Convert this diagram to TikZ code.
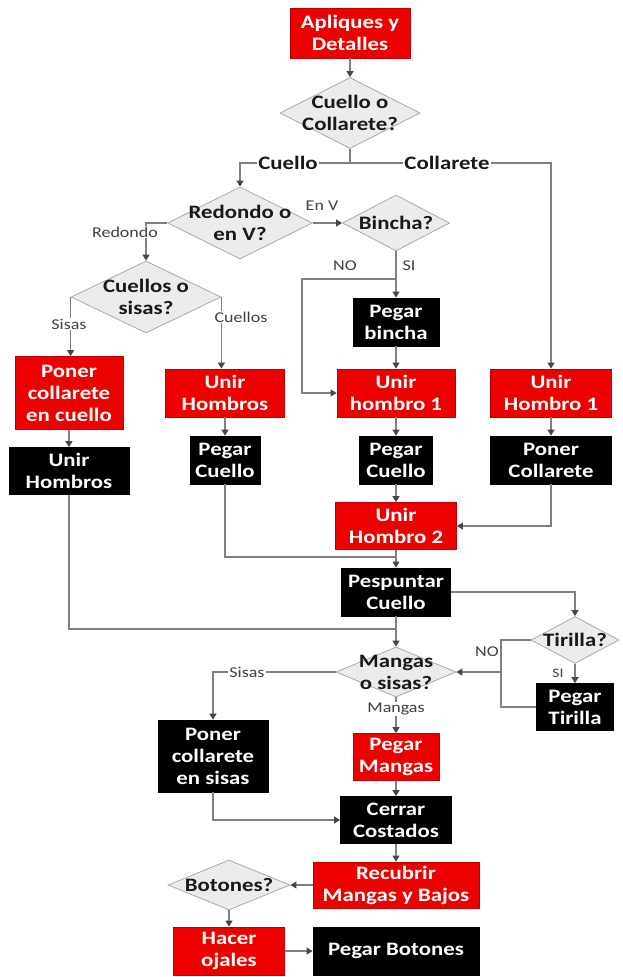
\documentclass[tikz,border=0pt]{standalone}
\usepackage{fontspec}
\setmainfont{Carlito}[FakeStretch=1.2]
\usepackage{xcolor}
\usepackage{tikz}
\usetikzlibrary{shapes.geometric, arrows.meta}
\definecolor{boxred}{RGB}{236,0,0}
\definecolor{boxredline}{RGB}{190,0,0}
\definecolor{diamfill}{RGB}{236,236,236}
\definecolor{diamline}{RGB}{170,170,170}
\definecolor{linkgray}{RGB}{128,128,128}
\definecolor{tipgray}{RGB}{70,70,70}
\definecolor{lblgray}{RGB}{64,64,64}

\begin{document}
\begin{tikzpicture}[x=1pt, y=-1pt,
    redbox/.style={rectangle, fill=boxred, draw=boxredline, line width=0.8pt, text=white,
        font=\fontsize{19}{22}\selectfont\bfseries, align=center, inner sep=1pt},
    blackbox/.style={redbox, fill=black, draw=black},
    decision/.style={diamond, fill=diamfill, draw=diamline, line width=0.8pt, inner sep=0pt},
    dectext/.style={font=\fontsize{19}{22}\selectfont\bfseries, text=black!90, align=center, inner sep=0pt},
    link/.style={draw=linkgray, line width=1.2pt},
    flow/.style={link, -{Triangle[width=7pt,length=6pt,color=tipgray]}},
    lbl/.style={font=\fontsize{15}{17}\selectfont, text=lblgray, fill=white, inner sep=1pt},
    boldlbl/.style={lbl, font=\fontsize{19}{22}\selectfont\bfseries, text=black!90}]
    \fill[white] (0,0) rectangle (622,977);
    \useasboundingbox (0,0) rectangle (622,977);

    % decisions
    \node[redbox, minimum width=120, minimum height=50] (apliques) at (350,33) {Apliques y\\Detalles};
    \node[decision, minimum width=140, minimum height=71] (cuelloq) at (350,113) {};
    \node[dectext] (cuelloqt) at (cuelloq) {Cuello o\\Collarete?};
    \node[decision, minimum width=145, minimum height=72] (redondoq) at (240,223) {};
    \node[dectext] (redondoqt) at (redondoq) {Redondo o\\en V?};
    \node[decision, minimum width=150, minimum height=72] (sisasq) at (146,297) {};
    \node[dectext] (sisasqt) at (sisasq) {Cuellos o\\sisas?};
    \node[decision, minimum width=107, minimum height=56] (binchaq) at (396,223) {};
    \node[dectext] (binchaqt) at (binchaq) {Bincha?};

    % boxes
    \node[redbox, minimum width=108, minimum height=73] (ponercuello) at (69,393) {Poner\\collarete\\en cuello};
    \node[blackbox, minimum width=120, minimum height=47] (unirhombrosb) at (69,471) {Unir\\Hombros};
    \node[redbox, minimum width=119, minimum height=48] (unirhombrosr) at (225,393) {Unir\\Hombros};
    \node[blackbox, minimum width=70, minimum height=48] (pegarcuelloa) at (225,460) {Pegar\\Cuello};
    \node[blackbox, minimum width=86, minimum height=48] (pegarbincha) at (396,322) {Pegar\\bincha};
    \node[redbox, minimum width=118, minimum height=48] (unirhombro1) at (396,393) {Unir\\hombro 1};
    \node[blackbox, minimum width=73, minimum height=48] (pegarcuellob) at (396,460) {Pegar\\Cuello};
    \node[redbox, minimum width=121, minimum height=47] (unirhombro2) at (396,526) {Unir\\Hombro 2};
    \node[blackbox, minimum width=109, minimum height=48] (pespuntar) at (396,592) {Pespuntar\\Cuello};
    \node[redbox, minimum width=121, minimum height=48] (unirhombro1c) at (551,393) {Unir\\Hombro 1};
    \node[blackbox, minimum width=121, minimum height=48] (ponercollarete) at (551,460) {Poner\\Collarete};
    \node[decision, minimum width=88, minimum height=47] (tirillaq) at (575,640) {};
    \node[dectext] (tirillaqt) at (tirillaq) {Tirilla?};
    \node[blackbox, minimum width=77, minimum height=47] (pegartirilla) at (575,707) {Pegar\\Tirilla};
    \node[decision, minimum width=120, minimum height=50] (mangasq) at (396,672) {};
    \node[dectext] (mangasqt) at (mangasq) {Mangas\\o sisas?};
    \node[blackbox, minimum width=110, minimum height=72] (ponersisas) at (213,756) {Poner\\collarete\\en sisas};
    \node[redbox, minimum width=86, minimum height=47] (pegarmangas) at (396,757) {Pegar\\Mangas};
    \node[blackbox, minimum width=111, minimum height=47] (cerrar) at (396,820) {Cerrar\\Costados};
    \node[redbox, minimum width=166, minimum height=46] (recubrir) at (396,885) {Recubrir\\Mangas y Bajos};
    \node[decision, minimum width=122, minimum height=50] (botonesq) at (229,885) {};
    \node[dectext] (botonesqt) at (botonesq) {Botones?};
    \node[redbox, minimum width=111, minimum height=48] (hacer) at (229,951) {Hacer\\ojales};
    \node[blackbox, minimum width=166, minimum height=48] (pegarbotones) at (396,951) {Pegar Botones};

    % connectors
    \coordinate (split) at (350,163);
    \coordinate (nobranch) at (396,279);
    \coordinate (noleft) at (302,279);
    \coordinate (joinA) at (396,557);
    \coordinate (joinB) at (396,629);
    \coordinate (tirjoin) at (501,672);
    \draw[flow] (apliques) -- (cuelloq);
    \draw[link] (cuelloq.south) -- (split);
    \draw[flow] (split) -| (redondoq.north);
    \draw[flow] (split) -| (unirhombro1c.north);
    \draw[flow] (redondoq.west) -| (sisasq.north);
    \draw[flow] (redondoq.east) -- (binchaq.west);
    \draw[flow] (sisasq.west) -- (sisasq.west |- ponercuello.north);
    \draw[flow] (sisasq.east) -- (sisasq.east |- unirhombrosr.north);
    \draw[flow] (ponercuello) -- (unirhombrosb);
    \draw[flow] (unirhombrosr) -- (pegarcuelloa);
    \draw[flow] (binchaq) -- (pegarbincha);
    \draw[flow] (nobranch) -- (noleft) |- (unirhombro1.west);
    \draw[flow] (pegarbincha) -- (unirhombro1);
    \draw[flow] (unirhombro1) -- (pegarcuellob);
    \draw[flow] (pegarcuellob) -- (unirhombro2);
    \draw[flow] (unirhombro2) -- (pespuntar);
    \draw[flow] (unirhombro1c) -- (ponercollarete);
    \draw[flow] (ponercollarete.south) |- (unirhombro2.east);
    \draw[link] (pegarcuelloa.south) |- (joinA);
    \draw[link] (unirhombrosb.south) |- (joinB);
    \draw[flow] (pespuntar) -- (mangasq);
    \draw[flow] (pespuntar.east) -| (tirillaq.north);
    \draw[flow] (tirillaq) -- (pegartirilla);
    \draw[link] (tirillaq.west) -| (tirjoin);
    \draw[link] (pegartirilla.west) -| (tirjoin);
    \draw[flow] (tirjoin) -- (mangasq.east);
    \draw[flow] (mangasq.west) -| (ponersisas.north);
    \draw[flow] (mangasq) -- (pegarmangas);
    \draw[flow] (ponersisas.south) |- (cerrar.west);
    \draw[flow] (pegarmangas) -- (cerrar);
    \draw[flow] (cerrar) -- (recubrir);
    \draw[flow] (recubrir) -- (botonesq);
    \draw[flow] (botonesq) -- (hacer);
    \draw[flow] (hacer) -- (pegarbotones);

    % labels
    \node[boldlbl] (lcuello) at (288,163) {Cuello};
    \node[boldlbl] (lcollarete) at (447,163) {Collarete};
    \node[lbl] (lredondo) at (125,232) {Redondo};
    \node[lbl, fill=none] (lenv) at (322,206) {En V};
    \node[lbl] (lsisasa) at (69,324) {Sisas};
    \node[lbl] (lcuellos) at (241,317) {Cuellos};
    \node[lbl, fill=none] (lnoa) at (345,266) {NO};
    \node[lbl, fill=none] (lsia) at (409,266) {SI};
    \node[lbl, fill=none] (lnob) at (487,652) {NO};
    \node[lbl, fill=none, font=\fontsize{13}{15}\selectfont] (lsib) at (558,673) {SI};
    \node[lbl] (lsisasb) at (247,672) {Sisas};
    \node[lbl] (lmangas) at (396,709) {Mangas};
\end{tikzpicture}
\end{document}
